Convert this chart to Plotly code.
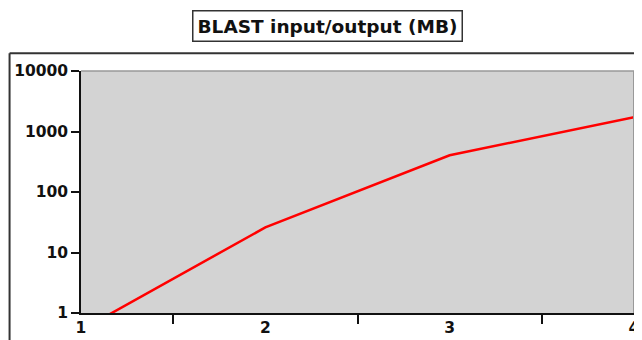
import plotly.graph_objects as go

x_values = [1, 2, 3, 4]
mb_values = [0.52, 26, 405, 1720]
x_tick_labels = ["1", "2", "3", "4"]
y_tick_values = [1, 10, 100, 1000, 10000]
y_tick_labels = ["1", "10", "100", "1000", "10000"]
x_minor_ticks = [1.5, 2.5, 3.5]
title_text = "BLAST input/output (MB)"

# page body has an 8px default margin, so the figure is drawn 8px in
OFF = 8
W, H = 642 - OFF, 340 - OFF
ml, mt = 80.5 - OFF, 70.7 - OFF
mr = W - (634 - OFF)
mb = H - (313.3 - OFF)
pw = W - ml - mr
ph = H - mt - mb

def px_x(p):
    return (p - OFF - ml) / pw

def px_y(p):
    return 1 - (p - OFF - mt) / ph

fig = go.Figure()
fig.add_trace(go.Scatter(
    x=x_values, y=mb_values, mode="lines",
    line=dict(color="#ff0000", width=2.5),
    showlegend=False, hoverinfo="skip",
))

font = dict(family="DejaVu Sans", size=15.5, color="#111111", weight="bold")

fig.update_layout(
    width=W, height=H,
    margin=dict(l=ml, r=mr, t=mt, b=mb, pad=0, autoexpand=False),
    paper_bgcolor="white",
    plot_bgcolor="#d3d3d3",
    showlegend=False,
    xaxis=dict(
        range=[1, 4], tickvals=x_values, ticktext=x_tick_labels,
        ticks="", showgrid=False, zeroline=False, automargin=False,
        ticklabeloverflow="allow",
        showline=True, linecolor="#111111", linewidth=1.5,
        tickfont=font,
        minor=dict(tickvals=x_minor_ticks, ticks="outside", ticklen=9,
                   tickcolor="#111111", tickwidth=1.5, showgrid=False),
    ),
    yaxis=dict(
        type="log", range=[0, 4], tickvals=y_tick_values, ticktext=y_tick_labels,
        ticks="outside", ticklen=8, tickcolor="#111111", tickwidth=1.5,
        showgrid=False, zeroline=False, automargin=False,
        ticklabeloverflow="allow",
        showline=True, linecolor="#111111", linewidth=1.5,
        tickfont=font,
    ),
    shapes=[
        dict(type="line", xref="paper", yref="paper",
             x0=px_x(9), x1=px_x(700), y0=px_y(53), y1=px_y(53),
             line=dict(color="#333333", width=2)),
        dict(type="line", xref="paper", yref="paper",
             x0=px_x(9), x1=px_x(9), y0=px_y(53), y1=px_y(400),
             line=dict(color="#333333", width=2)),
        dict(type="line", xref="paper", yref="paper",
             x0=0, x1=1, y0=1, y1=1,
             line=dict(color="#999999", width=1.5)),
        dict(type="line", xref="paper", yref="paper",
             x0=1, x1=1, y0=0, y1=1,
             line=dict(color="#999999", width=2)),
    ],
    annotations=[
        dict(text=title_text, xref="paper", yref="paper",
             x=px_x(327), y=px_y(26), xanchor="center", yanchor="middle",
             showarrow=False,
             font=dict(family="DejaVu Sans", size=18.5, color="#111111", weight="bold"),
             bordercolor="#333333", borderwidth=1.5, borderpad=4, bgcolor="white"),
    ],
)

fig.write_html("out.html")
